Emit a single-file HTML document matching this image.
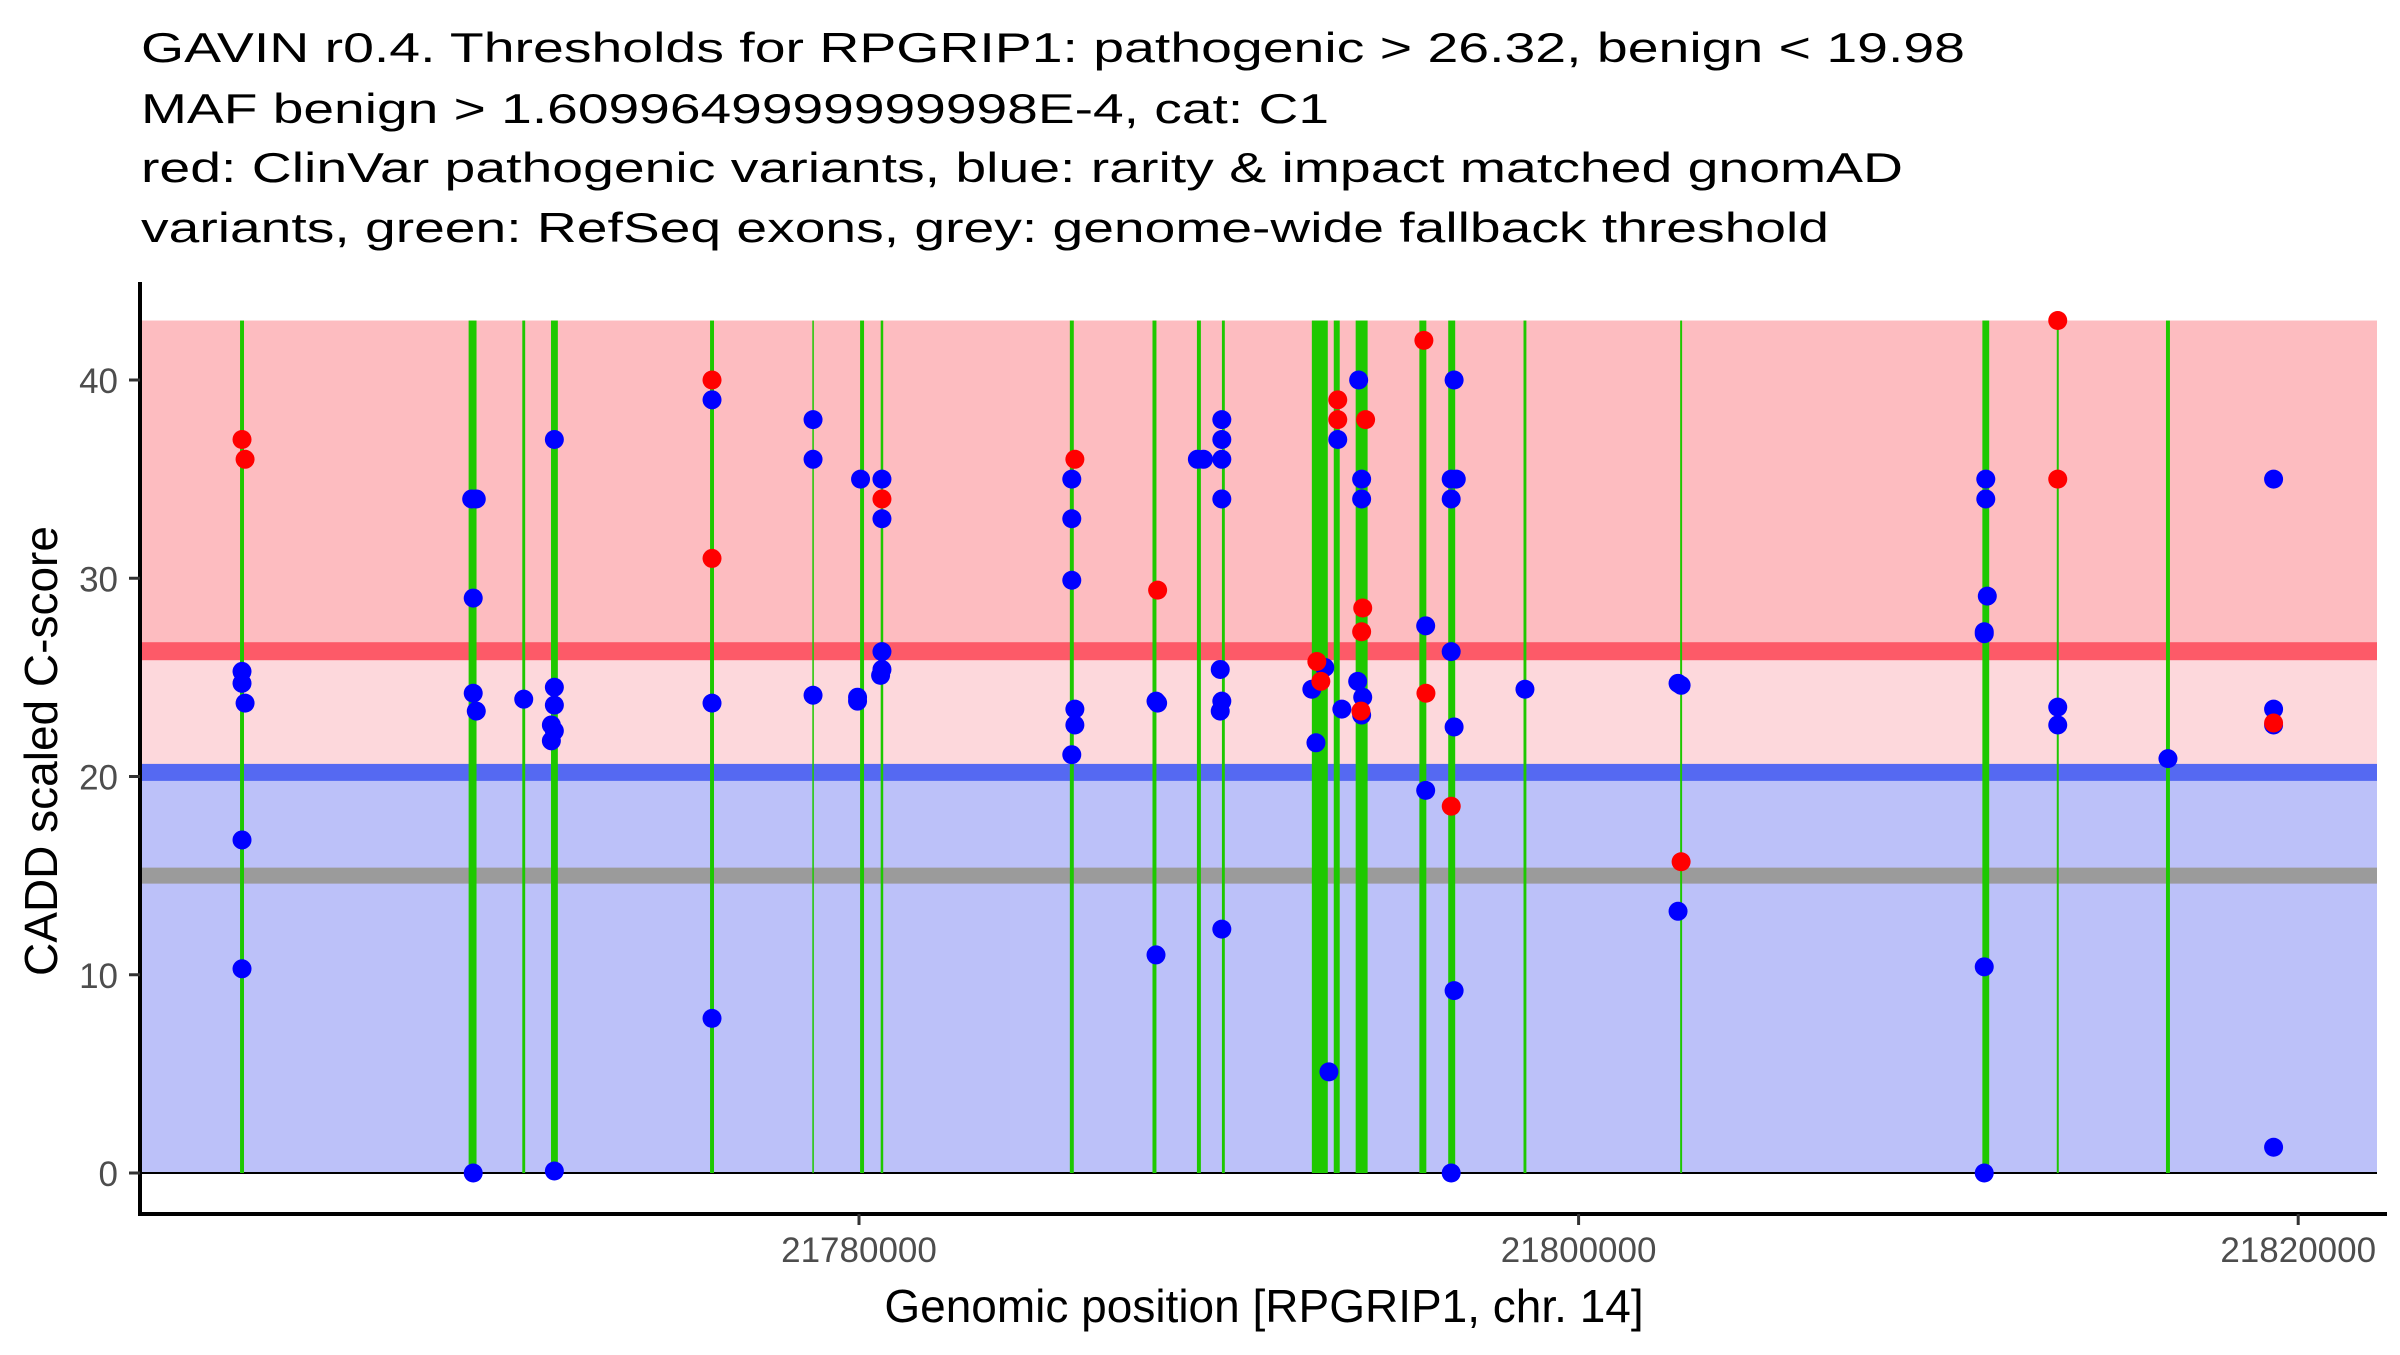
<!DOCTYPE html>
<html><head><meta charset="utf-8"><style>
html,body{margin:0;padding:0;background:#fff;}
svg text{font-family:"Liberation Sans",Arial,sans-serif;}
</style></head><body>
<svg id="chart" width="2400" height="1350" viewBox="0 0 2400 1350" xmlns="http://www.w3.org/2000/svg">
<g font-size="42" fill="#000">
<text x="141" y="62" textLength="1824" lengthAdjust="spacingAndGlyphs">GAVIN r0.4. Thresholds for RPGRIP1: pathogenic &gt; 26.32, benign &lt; 19.98</text>
<text x="141" y="123" textLength="1188" lengthAdjust="spacingAndGlyphs">MAF benign &gt; 1.6099649999999998E-4, cat: C1</text>
<text x="141" y="182" textLength="1762" lengthAdjust="spacingAndGlyphs">red: ClinVar pathogenic variants, blue: rarity &amp; impact matched gnomAD</text>
<text x="141" y="242" textLength="1688" lengthAdjust="spacingAndGlyphs">variants, green: RefSeq exons, grey: genome-wide fallback threshold</text>
</g>
<g id="bands"></g>
<g id="exons"></g>
<g id="points"></g>
<g id="axes"></g>
<text transform="translate(57,751) rotate(-90)" text-anchor="middle" font-size="46">CADD scaled C-score</text>
<text x="1264" y="1322" text-anchor="middle" font-size="46">Genomic position [RPGRIP1, chr. 14]</text>
</svg>
<script>
const pathoThreshold = 26.32;
const benignThreshold = 19.98;
const fallbackThreshold = 15;
const bandTop = 43;
const yTicks = [0, 10, 20, 30, 40];
const xTicks = [21780000, 21800000, 21820000];
const xTickLabels = ["21780000", "21800000", "21820000"];
const exonStart = [21762797,21769150,21770642,21771440,21775860,21778703,21780030,21780603,21785860,21788157,21789392,21790087,21792586,21793195,21793804,21795574,21796376,21798469,21802822,21811222,21813290,21816325];
const exonEnd   = [21762907,21769370,21770722,21771630,21775970,21778743,21780140,21780673,21785970,21788267,21789502,21790167,21793029,21793361,21794136,21795768,21796570,21798549,21802877,21811412,21813345,21816435];
const bluePos = [21762852,21762852,21762937,21762852,21762852,
 21769235,21769363,21769278,21769278,21769363,21769278,
 21770682,
 21771533,21771533,21771533,21771450,21771533,21771450,21771533,
 21775915,21775915,21775915,
 21778723,21778723,21778723,
 21779960,21780043,21779960,
 21780638,21780638,21780638,21780638,21780600,
 21785914,21785914,21785914,21786000,21786000,21785914,
 21788255,21788300,21788255,
 21789404,21789574,
 21790084,21790084,21790084,21790084,21790040,21790084,21790040,21790084,
 21792586,21792946,21792700,21793060,
 21793306,21793420,
 21793887,21793970,21793970,21793860,21794000,21793970,
 21795750,21795750,
 21796540,21796459,21796600,21796459,21796459,21796540,21796540,21796459,
 21798509,
 21802764,21802849,21802764,
 21811317,21811317,21811359,21811274,21811274,21811274,21811274,
 21813317,21813317,
 21816380,
 21819316,21819316,21819316,21819316];
const blueScore = [25.3,24.7,23.7,16.8,10.3,
 34,34,29,24.2,23.3,0,
 23.9,
 37,24.5,23.6,22.6,22.3,21.8,0.1,
 39,23.7,7.8,
 38,36,24.1,
 24,35,23.8,
 35,33,26.3,25.4,25.1,
 35,33,29.9,23.4,22.6,21.1,
 23.8,23.7,11,
 36,36,
 38,37,36,34,25.4,23.8,23.3,12.3,
 24.4,25.5,21.7,5.1,
 37,23.4,
 40,35,34,24.8,24,23.1,
 27.6,19.3,
 40,35,35,34,26.3,22.5,9.2,0,
 24.4,
 24.7,24.6,13.2,
 35,34,29.1,27.3,27.2,10.4,0,
 23.5,22.6,
 20.9,
 35,23.4,22.6,1.3];
const redPos = [21762852,21762937,21775915,21775915,21780638,21786000,21788300,21792725,21792836,21793306,21793306,21794080,21794000,21793970,21793950,21795700,21795757,21796460,21802849,21813317,21813317,21819316];
const redScore = [37,36,40,31,34,36,29.4,25.8,24.8,39,38,38,28.5,27.3,23.3,42,24.2,18.5,15.7,43,35,22.7];

const NS="http://www.w3.org/2000/svg";
const X0=140, X1=2377, Y0=1214, YT=282;
const xScale = bp => 859 + (bp - 21780000) * 0.03598;
const yScale = v => 1173 - v * 19.825;
function mk(tag, parent, attrs){const e=document.createElementNS(NS,tag);for(const k in attrs)e.setAttribute(k,attrs[k]);parent.appendChild(e);return e;}

const bands=document.getElementById('bands');
let e;
e=mk('rect',bands,{x:X0,y:yScale(bandTop),width:X1-X0,height:yScale(pathoThreshold)-yScale(bandTop),fill:'#fdbcc0'});


e=mk('rect',bands,{x:X0,y:yScale(pathoThreshold),width:X1-X0,height:yScale(benignThreshold)-yScale(pathoThreshold),fill:'#fdd8dc'});


e=mk('rect',bands,{x:X0,y:yScale(benignThreshold),width:X1-X0,height:yScale(0)-yScale(benignThreshold),fill:'#bcc1f9'});


e=mk('rect',bands,{x:X0,y:yScale(pathoThreshold)-9,width:X1-X0,height:18,fill:'#fd5a68'});


e=mk('rect',bands,{x:X0,y:yScale(benignThreshold)-13,width:X1-X0,height:17,fill:'#5569f2'});


e=mk('rect',bands,{x:X0,y:yScale(fallbackThreshold)-8,width:X1-X0,height:16,fill:'#9b9b9b'});


e=mk('line',bands,{x1:X0,x2:X1,y1:yScale(0),y2:yScale(0),stroke:'#000','stroke-width':2});



const ex=document.getElementById('exons');
for(let i=0;i<exonStart.length;i++){
  const a=xScale(exonStart[i]), b=xScale(exonEnd[i]);
  e=mk('rect',ex,{x:a,y:yScale(bandTop),width:Math.max(1.5,b-a),height:yScale(0)-yScale(bandTop),fill:'#1ec800'});
  
  
}
const pts=document.getElementById('points');
for(let i=0;i<bluePos.length;i++){
  e=mk('circle',pts,{cx:xScale(bluePos[i]),cy:yScale(blueScore[i]),r:9.5,fill:'#0000ff'});
  
  
}
for(let i=0;i<redPos.length;i++){
  e=mk('circle',pts,{cx:xScale(redPos[i]),cy:yScale(redScore[i]),r:9.5,fill:'#ff0000'});
  
  
}
const ax=document.getElementById('axes');
e=mk('line',ax,{x1:X0,x2:X0,y1:YT,y2:Y0+2,stroke:'#000','stroke-width':4});


e=mk('line',ax,{x1:X0-2,x2:X1+10,y1:Y0,y2:Y0,stroke:'#000','stroke-width':4});


yTicks.forEach(v=>{
  const y=yScale(v);
  e=mk('line',ax,{x1:X0-11,x2:X0,y1:y,y2:y,stroke:'#333','stroke-width':3});
  
  
  e=mk('text',ax,{x:118,y:y+13,'text-anchor':'end','font-size':35,fill:'#4d4d4d'});
  e.textContent=String(v);
  
  
});
xTicks.forEach((v,i)=>{
  const x=xScale(v);
  e=mk('line',ax,{x1:x,x2:x,y1:Y0,y2:Y0+11,stroke:'#333','stroke-width':3});
  
  
  e=mk('text',ax,{x:x,y:1262,'text-anchor':'middle','font-size':35,fill:'#4d4d4d'});
  e.textContent=xTickLabels[i];
  
  
});
</script>
</body></html>
